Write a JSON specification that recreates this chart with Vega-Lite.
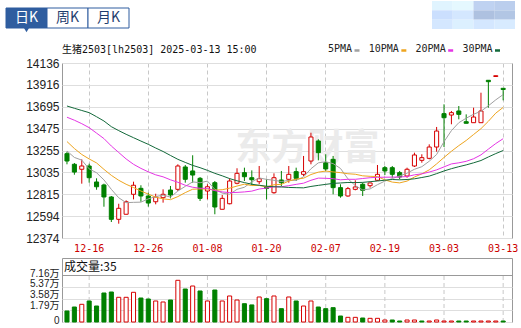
{
"$schema": "https://vega.github.io/schema/vega-lite/v6.json",
"background": "white",
"padding": {"left": 5, "top": 0, "right": 0, "bottom": 0},
"config": {"view": {"stroke": "#999999"}, "font": "Liberation Sans"},
"datasets": {
"k": [
{"d":"12-11","o":13223,"h":13243,"l":13116,"c":13149,"v":16760,"m5":13250,"m10":13345,"m20":13590,"m30":13703},
{"d":"12-12","o":13116,"h":13129,"l":13011,"c":13038,"v":22850,"m5":13185,"m10":13275,"m20":13560,"m30":13680},
{"d":"12-13","o":13066,"h":13166,"l":12921,"c":13099,"v":26960,"m5":13158,"m10":13215,"m20":13525,"m30":13658},
{"d":"12-16","o":13099,"h":13122,"l":12931,"c":12981,"v":32000,"m5":13070,"m10":13170,"m20":13485,"m30":13636},
{"d":"12-17","o":12938,"h":12975,"l":12860,"c":12890,"v":24370,"m5":13031,"m10":13130,"m20":13430,"m30":13595},
{"d":"12-18","o":12908,"h":12921,"l":12689,"c":12787,"v":44180,"m5":12959,"m10":13065,"m20":13375,"m30":13552},
{"d":"12-19","o":12787,"h":12797,"l":12535,"c":12562,"v":45700,"m5":12864,"m10":13005,"m20":13300,"m30":13495},
{"d":"12-20","o":12562,"h":12719,"l":12518,"c":12673,"v":37630,"m5":12779,"m10":12955,"m20":13235,"m30":13455},
{"d":"12-23","o":12613,"h":12753,"l":12610,"c":12739,"v":37630,"m5":12730,"m10":12915,"m20":13170,"m30":13418},
{"d":"12-24","o":12814,"h":12941,"l":12763,"c":12905,"v":45240,"m5":12733,"m10":12882,"m20":13116,"m30":13384},
{"d":"12-25","o":12874,"h":12905,"l":12739,"c":12797,"v":36560,"m5":12735,"m10":12847,"m20":13075,"m30":13350},
{"d":"12-26","o":12797,"h":12830,"l":12690,"c":12726,"v":35040,"m5":12768,"m10":12816,"m20":13040,"m30":13317},
{"d":"12-27","o":12739,"h":12820,"l":12713,"c":12787,"v":32000,"m5":12791,"m10":12785,"m20":13010,"m30":13280},
{"d":"12-30","o":12780,"h":12864,"l":12730,"c":12814,"v":30470,"m5":12806,"m10":12768,"m20":12990,"m30":13245},
{"d":"12-31","o":12857,"h":12898,"l":12773,"c":12807,"v":33510,"m5":12786,"m10":12760,"m20":12960,"m30":13205},
{"d":"01-02","o":12864,"h":13116,"l":12847,"c":13099,"v":63530,"m5":12847,"m10":12791,"m20":12935,"m30":13166},
{"d":"01-03","o":13089,"h":13109,"l":12931,"c":12965,"v":50270,"m5":12894,"m10":12831,"m20":12905,"m30":13135},
{"d":"01-06","o":13049,"h":13207,"l":12931,"c":13008,"v":54840,"m5":12939,"m10":12865,"m20":12885,"m30":13105},
{"d":"01-07","o":12975,"h":12988,"l":12747,"c":12773,"v":47230,"m5":12930,"m10":12868,"m20":12875,"m30":13082},
{"d":"01-08","o":12847,"h":12915,"l":12763,"c":12890,"v":32000,"m5":12947,"m10":12867,"m20":12874,"m30":13055},
{"d":"01-09","o":12931,"h":12948,"l":12613,"c":12686,"v":48750,"m5":12864,"m10":12856,"m20":12851,"m30":13025},
{"d":"01-10","o":12663,"h":12807,"l":12663,"c":12773,"v":32000,"m5":12826,"m10":12860,"m20":12838,"m30":13000},
{"d":"01-13","o":12719,"h":12975,"l":12713,"c":12948,"v":39610,"m5":12814,"m10":12876,"m20":12831,"m30":12972},
{"d":"01-14","o":12925,"h":13076,"l":12915,"c":13025,"v":33510,"m5":12864,"m10":12897,"m20":12833,"m30":12950},
{"d":"01-15","o":13032,"h":13082,"l":12948,"c":12991,"v":27880,"m5":12885,"m10":12916,"m20":12838,"m30":12932},
{"d":"01-16","o":12981,"h":13055,"l":12908,"c":12961,"v":26000,"m5":12940,"m10":12902,"m20":12846,"m30":12915},
{"d":"01-17","o":12941,"h":13099,"l":12915,"c":12971,"v":38090,"m5":12979,"m10":12903,"m20":12867,"m30":12905},
{"d":"01-20","o":12885,"h":12965,"l":12763,"c":12872,"v":35550,"m5":12964,"m10":12889,"m20":12877,"m30":12895},
{"d":"01-21","o":12830,"h":13025,"l":12820,"c":12981,"v":39610,"m5":12955,"m10":12910,"m20":12889,"m30":12890},
{"d":"01-22","o":12958,"h":13049,"l":12898,"c":12931,"v":20310,"m5":12943,"m10":12914,"m20":12890,"m30":12888},
{"d":"01-23","o":12965,"h":13099,"l":12931,"c":13015,"v":38090,"m5":12954,"m10":12947,"m20":12901,"m30":12883},
{"d":"01-24","o":13042,"h":13082,"l":12948,"c":12975,"v":32000,"m5":12955,"m10":12967,"m20":12914,"m30":12881},
{"d":"01-27","o":13015,"h":13200,"l":12998,"c":13042,"v":24370,"m5":12989,"m10":12976,"m20":12926,"m30":12879},
{"d":"02-05","o":13149,"h":13434,"l":13116,"c":13391,"v":32000,"m5":13071,"m10":13013,"m20":12955,"m30":12893},
{"d":"02-06","o":13351,"h":13368,"l":13156,"c":13233,"v":22850,"m5":13131,"m10":13037,"m20":12977,"m30":12904},
{"d":"02-07","o":13132,"h":13217,"l":13049,"c":13069,"v":20310,"m5":13142,"m10":13048,"m20":12975,"m30":12914},
{"d":"02-10","o":13166,"h":13200,"l":12814,"c":12881,"v":21830,"m5":13123,"m10":13039,"m20":12971,"m30":12924},
{"d":"02-11","o":12881,"h":12915,"l":12780,"c":12797,"v":9140,"m5":13074,"m10":13032,"m20":12960,"m30":12928},
{"d":"02-12","o":12797,"h":12888,"l":12790,"c":12871,"v":7110,"m5":12970,"m10":13021,"m20":12965,"m30":12933},
{"d":"02-13","o":12864,"h":12955,"l":12854,"c":12888,"v":7110,"m5":12901,"m10":13016,"m20":12965,"m30":12932},
{"d":"02-14","o":12915,"h":12931,"l":12797,"c":12854,"v":6090,"m5":12858,"m10":13000,"m20":12973,"m30":12934},
{"d":"02-17","o":12901,"h":12931,"l":12881,"c":12928,"v":5590,"m5":12868,"m10":12995,"m20":12981,"m30":12941},
{"d":"02-18","o":12955,"h":13109,"l":12948,"c":13015,"v":5590,"m5":12911,"m10":12993,"m20":12985,"m30":12948},
{"d":"02-19","o":13082,"h":13099,"l":13008,"c":13049,"v":3050,"m5":12947,"m10":12959,"m20":12986,"m30":12956},
{"d":"02-20","o":13082,"h":13099,"l":12981,"c":13015,"v":3050,"m5":12972,"m10":12937,"m20":12987,"m30":12963},
{"d":"02-21","o":13032,"h":13049,"l":12965,"c":12988,"v":1520,"m5":12999,"m10":12929,"m20":12988,"m30":12960},
{"d":"02-24","o":12998,"h":13082,"l":12981,"c":13066,"v":3050,"m5":13027,"m10":12947,"m20":12993,"m30":12963},
{"d":"02-25","o":13099,"h":13233,"l":13089,"c":13210,"v":3050,"m5":13066,"m10":12988,"m20":13010,"m30":12970},
{"d":"02-26","o":13156,"h":13217,"l":13132,"c":13183,"v":1520,"m5":13092,"m10":13020,"m20":13020,"m30":12983},
{"d":"02-27","o":13176,"h":13317,"l":13166,"c":13290,"v":1520,"m5":13147,"m10":13060,"m20":13038,"m30":12997},
{"d":"02-28","o":13290,"h":13492,"l":13243,"c":13451,"v":3050,"m5":13215,"m10":13120,"m20":13060,"m30":13022},
{"d":"03-03","o":13626,"h":13720,"l":13290,"c":13585,"v":1520,"m5":13344,"m10":13185,"m20":13090,"m30":13049},
{"d":"03-04","o":13612,"h":13653,"l":13519,"c":13636,"v":1520,"m5":13455,"m10":13247,"m20":13120,"m30":13072},
{"d":"03-05","o":13653,"h":13703,"l":13569,"c":13619,"v":1520,"m5":13535,"m10":13304,"m20":13131,"m30":13092},
{"d":"03-06","o":13545,"h":13619,"l":13529,"c":13529,"v":1520,"m5":13580,"m10":13356,"m20":13146,"m30":13110},
{"d":"03-07","o":13535,"h":13686,"l":13535,"c":13592,"v":1520,"m5":13620,"m10":13416,"m20":13172,"m30":13131},
{"d":"03-10","o":13535,"h":13837,"l":13535,"c":13653,"v":1520,"m5":13650,"m10":13475,"m20":13211,"m30":13154},
{"d":"03-11","o":13962,"h":13962,"l":13686,"c":13948,"v":1520,"m5":13705,"m10":13549,"m20":13269,"m30":13190},
{"d":"03-12","o":14000,"h":14008,"l":14000,"c":14008,"v":1520,"m5":13765,"m10":13631,"m20":13325,"m30":13224},
{"d":"03-13","o":13881,"h":13881,"l":13760,"c":13869,"v":1520,"m5":13818,"m10":13689,"m20":13374,"m30":13255}
],
"tabs": [{"t":"日K","on":true},{"t":"周K","on":false},{"t":"月K","on":false}],
"lg": [{"k":"5PMA"},{"k":"10PMA"},{"k":"20PMA"},{"k":"30PMA"}],
"hdr": [{"t":"生猪2503[lh2503] 2025-03-13 15:00"}],
"logo": [
{"cx":"c1","ry":"r1","tone":0.15},{"cx":"c2","ry":"r1","tone":0.1},{"cx":"c3","ry":"r1","tone":0.55},{"cx":"c4","ry":"r1","tone":0.6},
{"cx":"c1","ry":"r2","tone":0.4},{"cx":"c2","ry":"r2","tone":0.3},{"cx":"c3","ry":"r2","tone":0.75},{"cx":"c4","ry":"r2","tone":0.7},
{"cx":"c1","ry":"r3","tone":0.3},{"cx":"c2","ry":"r3","tone":0.2},{"cx":"c3","ry":"r3","tone":0.3},{"cx":"c4","ry":"r3","tone":0.25}
]
},
"bounds": "flush",
"spacing": 20,
"vconcat": [
{
"width": 450,
"height": 175,
"layer": [
{
"data": {"name": "logo"},
"mark": {"type": "rect"},
"encoding": {
"x": {"field": "cx", "type": "ordinal", "scale": {"type": "band", "domain": ["c1","c2","c3","c4"], "range": [370, 453], "paddingInner": 0, "paddingOuter": 0}, "axis": null},
"y": {"field": "ry", "type": "ordinal", "scale": {"type": "band", "domain": ["r1","r2","r3"], "range": [-62, -34], "paddingInner": 0, "paddingOuter": 0}, "axis": null},
"color": {"field": "tone", "type": "quantitative", "scale": {"domain": [0, 1], "range": ["#ffffff", "#9aadcb"]}, "legend": null}
}
},
{
"data": {"name": "k"},
"encoding": {
"x": {"field": "d", "type": "ordinal",
"scale": {"type": "band", "domain": ["12-11","12-12","12-13","12-16","12-17","12-18","12-19","12-20","12-23","12-24","12-25","12-26","12-27","12-30","12-31","01-02","01-03","01-06","01-07","01-08","01-09","01-10","01-13","01-14","01-15","01-16","01-17","01-20","01-21","01-22","01-23","01-24","01-27","02-05","02-06","02-07","02-10","02-11","02-12","02-13","02-14","02-17","02-18","02-19","02-20","02-21","02-24","02-25","02-26","02-27","02-28","03-03","03-04","03-05","03-06","03-07","03-10","03-11","03-12","03-13"], "paddingInner": 0, "paddingOuter": 0.435, "align": 0.2},
"axis": {"values": ["12-16","12-26","01-08","01-20","02-07","02-19","03-03","03-13"], "bandPosition": 0.5, "grid": true, "gridDash": [4,3], "gridColor": "#c8c8c8", "domain": false, "ticks": false, "labelColor": "#cc0000", "labelFont": "DejaVu Sans Mono", "labelFontSize": 10, "labelPadding": 5, "labelAngle": 0, "labelOverlap": false, "title": null}}
},
"layer": [
{
"transform": [{"filter": "datum.d == '01-27'"}],
"mark": {"type": "text", "text": "东方财富", "font": "Noto Sans CJK SC", "fontSize": 36, "fontWeight": "bold", "color": "#ebebeb", "dx": 4},
"encoding": {"y": {"datum": 13270, "type": "quantitative", "scale": {"domain": [12374,14136], "nice": false, "zero": false}, "axis": {"values": [12374,12594,12815,13035,13255,13475,13695,13916,14136], "format": "d", "title": null, "domain": false, "ticks": false, "grid": true, "gridColor": "#dedede", "labelFont": "Liberation Sans", "labelFontSize": 12, "labelColor": "#222222", "labelPadding": 3}}}
},
{
"mark": {"type": "rule", "strokeWidth": 1},
"encoding": {
"y": {"field": "l", "type": "quantitative", "scale": {"domain": [12374,14136], "nice": false, "zero": false}, "axis": {"values": [12374,12594,12815,13035,13255,13475,13695,13916,14136], "format": "d", "title": null, "domain": false, "ticks": false, "grid": true, "gridColor": "#dedede", "labelFont": "Liberation Sans", "labelFontSize": 12, "labelColor": "#222222", "labelPadding": 3}},
"y2": {"field": "h"},
"color": {"condition": {"test": "datum.c >= datum.o", "value": "#d60000"}, "value": "#008000"}
}
},
{
"mark": {"type": "bar", "width": {"band": 0.55}, "strokeWidth": 1},
"encoding": {
"y": {"field": "o", "type": "quantitative", "scale": {"domain": [12374,14136], "nice": false, "zero": false}, "axis": {"values": [12374,12594,12815,13035,13255,13475,13695,13916,14136], "format": "d", "title": null, "domain": false, "ticks": false, "grid": true, "gridColor": "#dedede", "labelFont": "Liberation Sans", "labelFontSize": 12, "labelColor": "#222222", "labelPadding": 3}},
"y2": {"field": "c"},
"fill": {"condition": {"test": "datum.c >= datum.o", "value": "#ffffff"}, "value": "#008000"},
"stroke": {"condition": {"test": "datum.c >= datum.o", "value": "#d60000"}, "value": "#008000"}
}
},
{
"transform": [{"fold": ["m5","m10","m20","m30"], "as": ["key","val"]}],
"mark": {"type": "line", "strokeWidth": 1},
"encoding": {
"y": {"field": "val", "type": "quantitative", "scale": {"domain": [12374,14136], "nice": false, "zero": false}, "axis": {"values": [12374,12594,12815,13035,13255,13475,13695,13916,14136], "format": "d", "title": null, "domain": false, "ticks": false, "grid": true, "gridColor": "#dedede", "labelFont": "Liberation Sans", "labelFontSize": 12, "labelColor": "#222222", "labelPadding": 3}},
"color": {"field": "key", "type": "nominal", "scale": {"domain": ["m5","m10","m20","m30"], "range": ["#a0a0a0","#eea51f","#e535e5","#13693a"]}, "legend": null}
}
}
]
},
{
"data": {"name": "tabs"},
"encoding": {
"x": {"field": "t", "type": "nominal", "sort": null, "scale": {"type": "band", "domain": ["日K","周K","月K"], "range": [-56, 67], "paddingInner": 0, "paddingOuter": 0}, "axis": null},
"y": {"datum": "tab", "type": "nominal", "scale": {"type": "band", "domain": ["tab"], "range": [-55, -35], "paddingInner": 0, "paddingOuter": 0}, "axis": null}
},
"layer": [
{"mark": {"type": "rect", "stroke": "#2f5d9f", "strokeWidth": 1},
 "encoding": {"fill": {"condition": {"test": "datum.on", "value": "#2f5d9f"}, "value": "#ffffff"}}},
{"mark": {"type": "text", "font": "Noto Sans CJK SC", "fontSize": 14, "baseline": "middle"},
 "encoding": {"text": {"field": "t"}, "color": {"condition": {"test": "datum.on", "value": "#ffffff"}, "value": "#1f3d6e"}}},
{"transform": [{"filter": "datum.on"}],
 "mark": {"type": "point", "shape": "triangle-down", "filled": true, "size": 28, "opacity": 1, "color": "#2f5d9f", "yOffset": 12}}
]
},
{
"data": {"name": "lg"},
"encoding": {
"x": {"field": "k", "type": "nominal", "sort": null, "scale": {"type": "point", "domain": ["5PMA","10PMA","20PMA","30PMA"], "range": [295, 435.5], "padding": 0}, "axis": null},
"y": {"datum": "lg", "type": "nominal", "scale": {"type": "point", "domain": ["lg"], "range": [-14, -14]}, "axis": null}
},
"layer": [
{"mark": {"type": "text", "align": "right", "baseline": "middle", "dx": -5, "font": "DejaVu Sans Mono", "fontSize": 10, "color": "#222222"},
 "encoding": {"text": {"field": "k"}}},
{"mark": {"type": "point", "shape": "M-1,-0.5H1V0.5H-1Z", "filled": true, "size": 25, "opacity": 1, "yOffset": 1.5},
 "encoding": {"color": {"field": "k", "type": "nominal", "scale": {"domain": ["5PMA","10PMA","20PMA","30PMA"], "range": ["#a0a0a0","#eea51f","#e535e5","#13693a"]}, "legend": null}}}
]
},
{
"data": {"name": "hdr"},
"mark": {"type": "text", "align": "left", "baseline": "middle", "font": "DejaVu Sans Mono, Noto Sans CJK SC", "fontSize": 10, "color": "#111111"},
"encoding": {
"x": {"datum": "hdr", "type": "nominal", "scale": {"type": "point", "domain": ["hdr"], "range": [0, 0]}, "axis": null},
"y": {"datum": "hdr", "type": "nominal", "scale": {"type": "point", "domain": ["hdr"], "range": [-13, -13]}, "axis": null},
"text": {"field": "t"}
}
}
],
"resolve": {"scale": {"x": "independent", "y": "independent", "color": "independent"}}
},
{
"width": 450,
"height": 64,
"data": {"name": "k"},
"encoding": {
"x": {"field": "d", "type": "ordinal",
"scale": {"type": "band", "domain": ["12-11","12-12","12-13","12-16","12-17","12-18","12-19","12-20","12-23","12-24","12-25","12-26","12-27","12-30","12-31","01-02","01-03","01-06","01-07","01-08","01-09","01-10","01-13","01-14","01-15","01-16","01-17","01-20","01-21","01-22","01-23","01-24","01-27","02-05","02-06","02-07","02-10","02-11","02-12","02-13","02-14","02-17","02-18","02-19","02-20","02-21","02-24","02-25","02-26","02-27","02-28","03-03","03-04","03-05","03-06","03-07","03-10","03-11","03-12","03-13"], "paddingInner": 0, "paddingOuter": 0.435, "align": 0.2},
"axis": null}
},
"layer": [
{
"transform": [{"filter": {"field": "d", "oneOf": ["12-16","12-26","01-08","01-20","02-07","02-19","03-03","03-13"]}}],
"mark": {"type": "rule", "strokeDash": [4,3], "color": "#c8c8c8", "strokeWidth": 1},
"encoding": {
"y": {"datum": 0, "type": "quantitative", "scale": {"domain": [0, 97500], "nice": false, "zero": true}, "axis": {"values": [0,17900,35800,53700,71600], "labelExpr": "datum.value == 0 ? '0' : format(datum.value / 10000, '.2f') + '万'", "title": null, "domain": false, "ticks": false, "grid": true, "gridColor": {"condition": {"test": "datum.value == 71600", "value": "#999999"}, "value": "#dedede"}, "labelFont": "Liberation Sans, Noto Sans CJK SC", "labelFontSize": 10, "labelColor": "#222222", "labelPadding": 3, "labelOverlap": false, "labelOffset": {"condition": [{"test": "datum.value == 71600", "value": -2}, {"test": "datum.value == 53700", "value": -3}, {"test": "datum.value == 35800", "value": -4}, {"test": "datum.value == 17900", "value": -5}], "value": -1.5}}},
"y2": {"datum": 71600}
}
},
{
"transform": [{"window": [{"op": "lag", "field": "c", "as": "pc"}]}],
"mark": {"type": "bar", "width": {"band": 0.55}, "strokeWidth": 1},
"encoding": {
"y": {"field": "v", "type": "quantitative", "scale": {"domain": [0, 97500], "nice": false, "zero": true}, "axis": {"values": [0,17900,35800,53700,71600], "labelExpr": "datum.value == 0 ? '0' : format(datum.value / 10000, '.2f') + '万'", "title": null, "domain": false, "ticks": false, "grid": true, "gridColor": {"condition": {"test": "datum.value == 71600", "value": "#999999"}, "value": "#dedede"}, "labelFont": "Liberation Sans, Noto Sans CJK SC", "labelFontSize": 10, "labelColor": "#222222", "labelPadding": 3, "labelOverlap": false, "labelOffset": {"condition": [{"test": "datum.value == 71600", "value": -2}, {"test": "datum.value == 53700", "value": -3}, {"test": "datum.value == 35800", "value": -4}, {"test": "datum.value == 17900", "value": -5}], "value": -1.5}}},
"fill": {"condition": {"test": "datum.pc != null && datum.c > datum.pc", "value": "#ffffff"}, "value": "#008000"},
"stroke": {"condition": {"test": "datum.pc != null && datum.c > datum.pc", "value": "#d60000"}, "value": "#008000"}
}
},
{
"data": {"values": [{"t": "成交量:35"}]},
"mark": {"type": "text", "align": "left", "baseline": "middle", "dx": -3, "font": "Noto Sans CJK SC", "fontSize": 12, "color": "#111111"},
"encoding": {
"x": {"datum": "12-11", "type": "ordinal"},
"y": {"datum": 84500, "type": "quantitative", "scale": {"domain": [0, 97500], "nice": false, "zero": true}, "axis": {"values": [0,17900,35800,53700,71600], "labelExpr": "datum.value == 0 ? '0' : format(datum.value / 10000, '.2f') + '万'", "title": null, "domain": false, "ticks": false, "grid": true, "gridColor": {"condition": {"test": "datum.value == 71600", "value": "#999999"}, "value": "#dedede"}, "labelFont": "Liberation Sans, Noto Sans CJK SC", "labelFontSize": 10, "labelColor": "#222222", "labelPadding": 3, "labelOverlap": false, "labelOffset": {"condition": [{"test": "datum.value == 71600", "value": -2}, {"test": "datum.value == 53700", "value": -3}, {"test": "datum.value == 35800", "value": -4}, {"test": "datum.value == 17900", "value": -5}], "value": -1.5}}},
"text": {"field": "t"}
}
}
]
}
]
}
